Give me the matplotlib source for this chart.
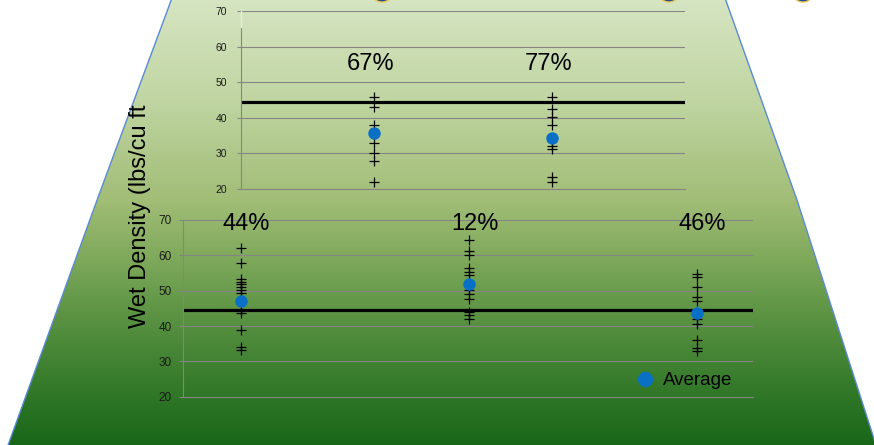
import numpy as np
import matplotlib
matplotlib.use("Agg")
from matplotlib import pyplot as plt
from matplotlib.patches import Polygon, Ellipse
from matplotlib.lines import Line2D
import matplotlib.transforms as mtransforms

plt.rcParams['font.family'] = ['Liberation Sans', 'DejaVu Sans']

# top chart
top_x = [1, 2]
top_labels = ['67%', '77%']
top_col1 = [45.9, 42.9, 38.0, 33.0, 30.0, 27.9, 22.0]
top_col2 = [45.9, 42.4, 40.1, 38.0, 32.1, 31.2, 23.3, 22.1]
top_avg = [35.6, 34.3]
top_limit = 44.4

# bottom chart
bot_x = [1, 2, 3]
bot_labels = ['44%', '12%', '46%']
bot_col1 = [62.0, 57.9, 53.2, 52.5, 51.8, 50.9, 50.2, 49.4, 44.5, 43.7, 39.0, 34.1, 33.2]
bot_col2 = [64.3, 61.2, 60.1, 56.5, 55.4, 54.4, 50.2, 49.0, 47.6, 44.0, 43.1, 41.9]
bot_col3 = [54.7, 53.9, 51.1, 48.1, 47.1, 41.9, 40.7, 36.0, 33.9, 33.0]
bot_avg = [47.1, 51.8, 43.7]
bot_limit = 44.5

yticks = [20, 30, 40, 50, 60, 70]

W, H = 874, 445
fig = plt.figure(figsize=(W / 100, H / 100), dpi=100)
fig.patch.set_facecolor('white')

# trapezoid background with green gradient
bg = fig.add_axes([0, 0, 1, 1], zorder=0)
bg.set_xlim(0, W)
bg.set_ylim(H, 0)
bg.axis('off')
stops_y = [0, 100, 200, 260, 320, 380, 445]
stops_c = np.array([(214, 229, 194), (192, 213, 162), (161, 189, 118),
                    (125, 168, 90), (88, 145, 65), (55, 124, 44), (24, 102, 24)]) / 255
yy = np.arange(H)
grad = np.stack([np.interp(yy, stops_y, stops_c[:, k]) for k in range(3)], axis=1)
grad = grad[:, None, :]
left_edge = [(172, -2), (100, 192), (7, 448)]
right_edge = [(725, -2), (797, 200), (877, 448)]
verts = left_edge[::-1] + right_edge
im = bg.imshow(grad, extent=(0, W, H, 0), aspect='auto')
clip = Polygon(verts, closed=True, transform=bg.transData)
im.set_clip_path(clip)
for edge in [left_edge, right_edge]:
    ex, ey = zip(*edge)
    bg.plot(ex, ey, color='#5a8ad6', lw=1)
# bits of shapes cut off at the top edge
for cx in [382, 669, 803]:
    bg.add_patch(Ellipse((cx, -2.5), 15, 9, facecolor='#1f4d9e', edgecolor='#f2c447', lw=1))


def style_axes(ax, xlim, fs, pad):
    ax.set_facecolor('none')
    ax.set_xlim(*xlim)
    ax.set_ylim(20, 70)
    ax.set_yticks(yticks)
    ax.set_xticks([])
    for s in ['top', 'right']:
        ax.spines[s].set_visible(False)
    ax.spines['left'].set_color('#858585')
    ax.spines['bottom'].set_color('#858585')
    ax.spines['left'].set_linewidth(0.8)
    ax.spines['bottom'].set_linewidth(0.8)
    ax.tick_params(axis='y', length=3, width=0.8, color='#858585',
                   labelsize=fs, labelcolor='#1a1a1a', pad=pad)
    ax.grid(axis='y', color='#858585', lw=0.8)
    ax.set_axisbelow(True)


def draw_column(ax, x, vals):
    ax.plot([x] * len(vals), vals, linestyle='none', marker='+', color='black',
            markersize=7, markeredgewidth=0.9, zorder=3)


# top chart
ax1 = fig.add_axes([241 / W, 1 - 189 / H, 444 / W, 178 / H], zorder=2)
style_axes(ax1, (0.253, 2.747), 7.5, 7)
ax1.spines['left'].set_bounds(20, 65.2)
ax1.plot([0.253, 0.253], [65.2, 70], color='#e8eee0', lw=1, clip_on=False)
ax1.axhline(top_limit, color='black', lw=2.3, zorder=2)
draw_column(ax1, top_x[0], top_col1)
draw_column(ax1, top_x[1], top_col2)
ax1.plot(top_x, top_avg, linestyle='none', marker='o', color='#0a70c6',
         markersize=8, zorder=4)
off1 = mtransforms.offset_copy(ax1.transData, fig=fig, x=-3, y=0, units='dots')
for x, lab in zip(top_x, top_labels):
    ax1.text(x, 53.4, lab, transform=off1, ha='center', va='baseline', fontsize=17)

# bottom chart
ax2 = fig.add_axes([183 / W, 1 - 396.7 / H, 570 / W, 176.7 / H], zorder=2)
style_axes(ax2, (0.747, 3.247), 8.5, 5)
ax2.axhline(bot_limit, color='black', lw=2.3, zorder=2)
for x, col in zip(bot_x, [bot_col1, bot_col2, bot_col3]):
    draw_column(ax2, x, col)
ax2.plot(bot_x, bot_avg, linestyle='none', marker='o', color='#0a70c6',
         markersize=8, zorder=4)
off2 = mtransforms.offset_copy(ax2.transData, fig=fig, x=6, y=0, units='dots')
for x, lab in zip(bot_x, bot_labels):
    ax2.text(x, 67.2, lab, transform=off2, ha='center', va='baseline', fontsize=17,
             clip_on=False)

handle = Line2D([], [], linestyle='none', marker='o', color='#0a70c6', markersize=10)
ax2.legend([handle], ['Average'], loc='center left', bbox_to_anchor=(0.7935, 0.09),
           frameon=False, fontsize=13.5, handlelength=1.0, handletextpad=0.5,
           borderpad=0, borderaxespad=0)

fig.text(140 / W, 1 - 216.5 / H, 'Wet Density (lbs/cu ft', rotation=90,
         ha='center', va='center', fontsize=17)

fig.savefig('out.png', dpi=100)
